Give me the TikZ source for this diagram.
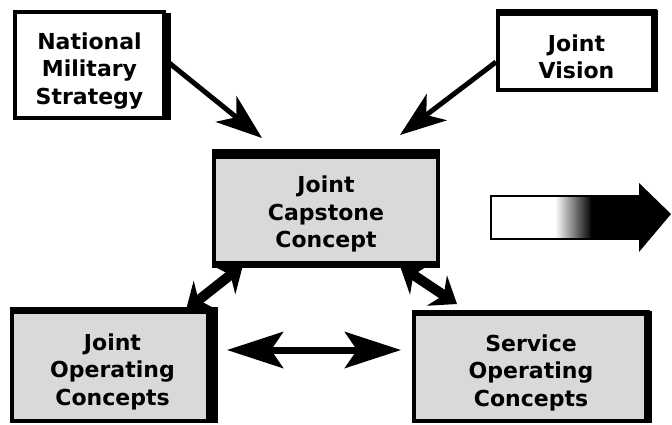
\documentclass[tikz,border=0pt]{standalone}
\usepackage{fontspec}
\setsansfont{DejaVu Sans}
\usetikzlibrary{arrows.meta}
% strut that lowers the text block inside a box
\newcommand{\lowerby}{\rule{0pt}{28pt}}
\begin{document}
\begin{tikzpicture}[x=1pt,y=-1pt,
  box/.style={draw=black, line width=4pt, align=center, inner sep=0pt,
    font=\sffamily\bfseries\fontsize{22}{27.5}\selectfont},
  screened/.style={fill=black!15},
  plain/.style={fill=white},
  band/.style={fill=black},
  feed/.style={line width=5pt, -{Stealth[length=46pt,width=33pt,inset=13pt]}},
  link/.style={line width=10pt,
    {Stealth[length=24pt,width=36pt,inset=8pt]}-{Stealth[length=24pt,width=36pt,inset=8pt]}},
  lateral/.style={line width=7pt,
    {Stealth[length=56pt,width=36pt,inset=12pt]}-{Stealth[length=56pt,width=36pt,inset=12pt]}},
]
\useasboundingbox (0,0) rectangle (672,424);

% concept boxes
\node[box, plain, minimum width=149pt, minimum height=106pt] (nms) at (89.5,65)
  {\lowerby National\\Military\\Strategy};
\fill[band] (162,13) rectangle (171,120);

\node[box, plain, minimum width=157pt, minimum height=78pt] (jv) at (576.5,51)
  {\lowerby Joint\\Vision};
\fill[band] (496,9) rectangle (657,16);
\fill[band] (651,10) rectangle (658,92);

\node[box, screened, minimum width=224pt, minimum height=111pt] (jcc) at (326,208.5)
  {\lowerby Joint\\Capstone\\Concept};
\fill[band] (212,149) rectangle (440,159);
\fill[band] (212,261) rectangle (440,268);

\node[box, screened, minimum width=201pt, minimum height=110pt] (joc) at (112.5,366)
  {\lowerby Joint\\Operating\\Concepts};
\fill[band] (10,307) rectangle (216,314);
\fill[band] (206,307) rectangle (218,423);

\node[box, screened, minimum width=234pt, minimum height=108pt] (soc) at (531,367)
  {\lowerby Service\\Operating\\Concepts};
\fill[band] (412,310) rectangle (650,316);
\fill[band] (644,311) rectangle (652,423);

% inputs to the capstone concept
\coordinate (nmsout) at (168,62);
\coordinate (jccinL) at (262,138);
\coordinate (jvout) at (496,62);
\coordinate (jccinR) at (400,135);
\draw[feed] (nmsout) -- (jccinL);
\draw[feed] (jvout) -- (jccinR);

% two-way links below the capstone concept
\coordinate (jccL) at (243,265);
\coordinate (jocT) at (186,310);
\coordinate (jccR) at (400,266);
\coordinate (socT) at (457,304);
\draw[link] (jccL) -- (jocT);
\draw[link] (jccR) -- (socT);

% link between joint and service operating concepts
\coordinate (latL) at (227,350);
\coordinate (latR) at (401,350);
\draw[lateral] (latL) -- (latR);

% shaded progression arrow
\fill[white] (491,196) rectangle (556,239);
\shade[left color=white, right color=black] (555,196) rectangle (592,239);
\fill[black] (591,196) rectangle (641,239);
\draw[line width=2.5pt] (491,196) rectangle (641,239);
\fill[black] (639,183) -- (671,214) -- (639,252) -- cycle;
\end{tikzpicture}
\end{document}
